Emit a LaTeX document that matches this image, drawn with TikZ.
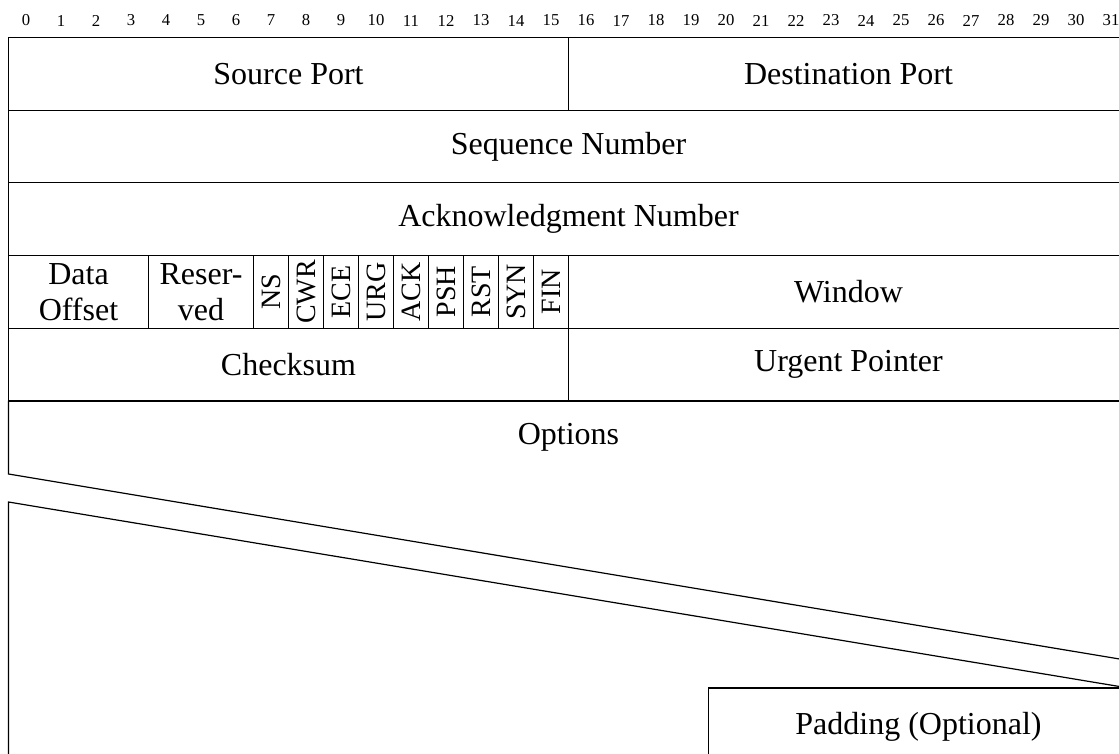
\documentclass[tikz,border=0pt]{standalone}
\usepackage{fontspec}
\setmainfont{Liberation Serif}
\begin{document}
\begin{tikzpicture}[x=0.75pt,y=-0.75pt,
  field/.style={draw, line width=0.9pt, inner sep=0pt, outer sep=0pt,
    minimum height=54.5pt, font=\fontsize{24}{27}\selectfont, align=center},
  flagbox/.style={field, rotate=90, minimum width=54.5pt, minimum height=26.25pt,
    font=\fontsize{21}{24}\selectfont},
  bitnum/.style={font=\fontsize{12.5}{14}\selectfont, inner sep=0pt},
  label/.style={font=\fontsize{24}{27}\selectfont, inner sep=0pt, align=center},
  edge/.style={line width=0.9pt}]
\useasboundingbox (0,0) rectangle (1119,753);
\clip (0,0) rectangle (1119,753);
% bit numbers
\foreach \i in {0,...,31} {
  \node[bitnum] (b\i) at ({8.5+35*\i+17.5},20.5) {\i};
}
% row 1
\node[field, minimum width=420pt] (src) at (288.5,73.83) {Source Port};
\node[field, minimum width=420pt] (dst) at (848.5,73.83) {Destination Port};
% row 2
\node[field, minimum width=840pt] (seq) at (568.5,146.5) {Sequence Number};
% row 3
\node[field, minimum width=840pt] (ack) at (568.5,219.17) {Acknowledgment Number};
% row 4
\node[field, minimum width=105pt] (doff) at (78.5,291.83) {Data\\Offset};
\node[field, minimum width=78.75pt] (res) at (201,291.83) {Reser-\\ved};
\foreach \f [count=\k from 0] in {NS,CWR,ECE,URG,ACK,PSH,RST,SYN,FIN} {
  \node[flagbox] (f\f) at ({271+35*\k},291.83) {\f};
}
\node[field, minimum width=420pt] (win) at (848.5,291.83) {Window};
% row 5
\node[field, minimum width=420pt] (chk) at (288.5,364.5) {Checksum};
\node[field, minimum width=420pt] (urg) at (848.5,364.5) {Urgent Pointer};
% options (broken word group)
\coordinate (otl) at (8.5,401.17);
\coordinate (otr) at (1128.5,401.17);
\coordinate (obl) at (8.5,474);
\coordinate (obr) at (1128.5,660.5);
\draw[edge] (obl) -- (otl) -- (otr) -- (obr) -- cycle;
\node[label] (opt) at (568.5,437.5) {Options};
\coordinate (ltl) at (8.5,502);
\coordinate (ltr) at (1128.5,688);
\coordinate (lbl) at (8.5,770);
\draw[edge] (lbl) -- (ltl) -- (ltr);
% padding
\node[field, minimum width=315pt, minimum height=58pt] (pad) at (918.5,726.7) {Padding (Optional)};
\end{tikzpicture}
\end{document}
